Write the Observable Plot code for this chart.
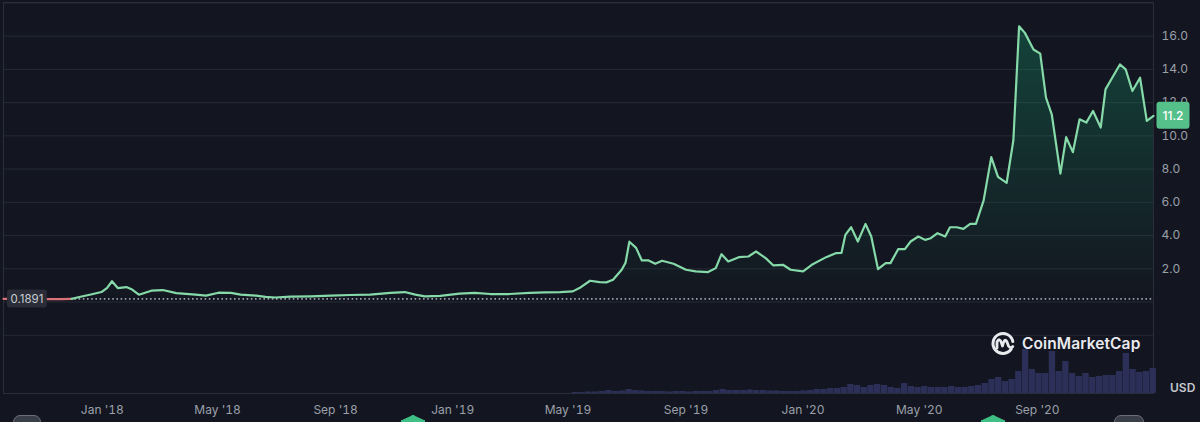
<!DOCTYPE html>
<html>
<head>
<meta charset="utf-8">
<script src="https://cdn.jsdelivr.net/npm/d3@7"></script>
<script src="https://cdn.jsdelivr.net/npm/@observablehq/plot@0.6"></script>
<style>
html, body { margin: 0; padding: 0; background: #131620; }
#wrap { position: relative; width: 1200px; height: 422px; overflow: hidden; background: #131620; font-family: Inter, "Noto Sans", sans-serif; }
#wrap > svg { position: absolute; left: 0; top: 0; }
#logo { position: absolute; left: 990px; top: 330px; display: flex; align-items: center; gap: 6px; color: #e9eaee; font-size: 15.5px; font-weight: 600; letter-spacing: 0.1px; }
#usd { position: absolute; left: 1170px; top: 380px; color: #c4c7ce; font-size: 12px; font-weight: 600; }
.mk { position: absolute; top: 415px; }
</style>
</head>
<body>
<div id="wrap"></div>
<script>
// ---- data (price in USD) ----
const startDate = "2017-09-20";
const endDate = "2020-12-31";
const priceDates = [
  "2017-09-20","2017-10-09","2017-10-30","2017-11-19","2017-11-30","2017-12-08","2017-12-20","2017-12-31",
  "2018-01-06","2018-01-11","2018-01-17","2018-01-26","2018-02-01","2018-02-08","2018-02-21","2018-03-05","2018-03-19","2018-04-08","2018-04-19","2018-05-02","2018-05-15","2018-05-25","2018-06-10","2018-06-20","2018-06-30","2018-07-16","2018-08-06","2018-08-27","2018-09-16","2018-10-07","2018-10-28","2018-11-12","2018-11-23","2018-12-03","2018-12-19",
  "2019-01-08","2019-01-24","2019-02-09","2019-03-01","2019-03-22","2019-04-07","2019-04-23","2019-05-06","2019-05-13","2019-05-24","2019-06-03","2019-06-10","2019-06-17","2019-06-26","2019-06-30","2019-07-04","2019-07-11","2019-07-17","2019-07-24","2019-07-31","2019-08-07","2019-08-19","2019-09-01","2019-09-11","2019-09-24","2019-10-02","2019-10-08","2019-10-15","2019-10-26","2019-11-05","2019-11-13","2019-11-23","2019-12-01","2019-12-11","2019-12-19",
  "2020-01-01","2020-01-10","2020-01-25","2020-02-04","2020-02-10","2020-02-14","2020-02-20","2020-02-27","2020-03-06","2020-03-12","2020-03-19","2020-03-27","2020-04-01","2020-04-09","2020-04-16","2020-04-22","2020-04-30","2020-05-07","2020-05-13","2020-05-20","2020-05-28","2020-06-02","2020-06-09","2020-06-16","2020-06-23","2020-06-29","2020-07-07","2020-07-15","2020-07-22","2020-07-31","2020-08-07","2020-08-13","2020-08-19","2020-08-28","2020-09-04","2020-09-10","2020-09-16","2020-09-25","2020-10-01","2020-10-08","2020-10-15","2020-10-22","2020-10-29","2020-11-06","2020-11-11","2020-11-18","2020-11-26","2020-12-02","2020-12-09","2020-12-17","2020-12-24","2020-12-31"
];
const prices = [
  0.19,0.18,0.17,0.17,0.19,0.30,0.45,0.6,
  0.85,1.25,0.84,0.9,0.75,0.44,0.68,0.72,0.53,0.44,0.38,0.56,0.55,0.44,0.38,0.31,0.27,0.32,0.34,0.38,0.42,0.44,0.55,0.6,0.44,0.34,0.37,
  0.5,0.55,0.48,0.48,0.55,0.58,0.6,0.64,0.84,1.28,1.2,1.18,1.34,1.94,2.36,3.63,3.26,2.5,2.5,2.3,2.48,2.3,1.94,1.84,1.8,2.04,2.88,2.44,2.7,2.74,3.04,2.64,2.2,2.24,1.94,
  1.84,2.24,2.7,2.94,2.96,4.04,4.5,3.64,4.7,3.94,1.98,2.34,2.34,3.18,3.18,3.64,3.94,3.74,3.84,4.14,3.94,4.5,4.5,4.4,4.7,4.7,6.1,8.72,7.53,7.17,9.72,16.6,16.2,15.2,14.95,12.3,11.3,7.73,9.92,9.02,11.0,10.8,11.5,10.5,12.8,13.5,14.3,14.0,12.7,13.5,10.9,11.2
];
const startPrice = 0.1891;
const lastPrice = 11.2;
const redUntil = "2017-11-30";
const yTicks = [2, 4, 6, 8, 10, 12, 14, 16];
const gridValues = [-2, 0, 2, 4, 6, 8, 10, 12, 14, 16, 18];
const xTicks = ["2018-01-01","2018-05-01","2018-09-01","2019-01-01","2019-05-01","2019-09-01","2020-01-01","2020-05-01","2020-09-01"];
// weekly volume (USD millions), from week of 2019-05-05
const volStart = "2019-05-05";
const volumes = [
  100,100,150,150,200,300,200,250,400,300,250,200,200,200,150,200,200,150,200,200,200,300,400,300,300,300,350,300,300,250,250,200,200,200,250,300,
  400,400,500,500,600,900,800,600,800,900,800,600,500,1000,700,600,700,600,600,600,700,600,600,700,800,1000,1400,1600,1200,1400,2200,4400,2400,2000,
  2000,4200,2200,3200,2000,1700,2000,1600,1700,1800,1800,2200,4000,2400,2100,2200,2500
];

// ---- build tables ----
const priceData = priceDates.map((d, i) => ({date: new Date(d), price: prices[i]}));
const redPart = priceData.filter(d => d.date <= new Date(redUntil));
const greenPart = priceData.filter(d => d.date >= new Date(redUntil));
const volData = volumes.map((v, i) => ({start: d3.utcDay.offset(new Date(volStart), 7 * i), vol: v}));

const xDomain = [new Date(startDate), new Date(endDate)];
const xRange = [3, 1153];
const gridColor = "#262a35";

const price = Plot.plot({
  width: 1200, height: 422,
  marginTop: 2, marginLeft: 3, marginRight: 47, marginBottom: 29,
  style: {background: "transparent", color: "#9ba0aa", fontFamily: "Inter, 'Noto Sans', sans-serif", fontSize: "12px"},
  x: {type: "utc", domain: xDomain, range: xRange, ticks: xTicks.map(d => new Date(d)),
      tickFormat: d3.utcFormat("%b '%y"), tickSize: 0, tickPadding: 12, label: null},
  y: {domain: [0, 16], range: [301.5, 35.7], ticks: yTicks, tickFormat: d => d.toFixed(1),
      axis: "right", tickSize: 0, tickPadding: 8, label: null},
  marks: [
    Plot.ruleY(gridValues, {stroke: gridColor, strokeWidth: 1}),
    Plot.frame({stroke: "#2a2e3a"}),
    Plot.areaY(greenPart, {x: "date", y1: startPrice, y2: "price", fill: "url(#areaGrad)"}),
    Plot.ruleY([startPrice], {stroke: "#9a9fa8", strokeWidth: 1.6, strokeDasharray: "1.6,2.6"}),
    Plot.line(redPart, {x: "date", y: "price", stroke: "#dc7279", strokeWidth: 2.2}),
    Plot.line(greenPart, {x: "date", y: "price", stroke: "#86d9a9", strokeWidth: 2.2, strokeLinejoin: "round"}),
    Plot.text([startPrice], {y: d => d, frameAnchor: "left", dx: 7, textAnchor: "start", text: d => d.toFixed(4),
      fill: "#c9ccd3", fontSize: 11.5}),
    Plot.text([lastPrice], {y: d => d, frameAnchor: "right", dx: 9, textAnchor: "start", text: d => d.toFixed(1),
      fill: "#ffffff", fontSize: 12, fontWeight: 500})
  ]
});

const volume = Plot.plot({
  width: 1200, height: 422,
  marginTop: 2, marginLeft: 3, marginRight: 47, marginBottom: 29,
  style: {background: "transparent"},
  x: {type: "utc", domain: xDomain, range: xRange, axis: null},
  y: {domain: [0, 5000], range: [393, 343], axis: null},
  marks: [
    Plot.rectY(volData, {x1: "start", x2: d => d3.utcDay.offset(d.start, 7), y: "vol", fill: "#2c3058", insetLeft: 0.4})
  ]
});

const wrap = document.getElementById("wrap");
wrap.appendChild(price);
wrap.appendChild(volume);

// gradient for the area
const defs = d3.select(price).insert("defs", ":first-child");
const grad = defs.append("linearGradient").attr("id", "areaGrad")
  .attr("gradientUnits", "userSpaceOnUse").attr("x1", 0).attr("x2", 0).attr("y1", 20).attr("y2", 300);
grad.append("stop").attr("offset", "0%").attr("stop-color", "#16c784").attr("stop-opacity", 0.26);
grad.append("stop").attr("offset", "100%").attr("stop-color", "#16c784").attr("stop-opacity", 0.0);

// badges behind the two value labels
function badge(label, fill, padX, padY, r) {
  const svgSel = d3.select(price);
  svgSel.selectAll("text").filter(function () { return this.textContent === label; }).each(function () {
    const t = this;
    const parent = d3.select(t.parentNode);
    const b = t.getBBox();
    parent.insert("rect", () => t)
      .attr("x", b.x - padX).attr("y", b.y - padY)
      .attr("width", b.width + 2 * padX).attr("height", b.height + 2 * padY)
      .attr("rx", r).attr("fill", fill)
      .attr("transform", t.getAttribute("transform"));
    parent.raise();
  });
}
badge(startPrice.toFixed(4), "#2a2d37", 3.5, 2, 3);
badge(lastPrice.toFixed(1), "#56c08b", 6, 6, 3);

// CoinMarketCap watermark
const logo = document.createElement("div");
logo.id = "logo";
logo.innerHTML = `<svg width="26" height="26" viewBox="-13 -13 26 26">
  <path d="M 8.2 6.2 A 10 10 0 1 1 9.8 -1.5" fill="none" stroke="#e9eaee" stroke-width="3" stroke-linecap="round"/>
  <path d="M -6 5 L -6 -1 Q -3.5 -6 -1.5 0 L -0.5 3 Q 1.5 -6 4 -1 L 5.5 3 Q 7.5 6 9.8 3.5" fill="none" stroke="#e9eaee" stroke-width="2.8" stroke-linecap="round" stroke-linejoin="round"/>
</svg><span>CoinMarketCap</span>`;
wrap.appendChild(logo);

const usd = document.createElement("div");
usd.id = "usd";
usd.textContent = "USD";
wrap.appendChild(usd);

// partially visible event markers at the bottom edge
const markers = [
  {left: 13, w: 26, color: "#3a3e48", border: "#6b6f79", round: true},
  {left: 401, w: 22, color: "#3fbf86", border: "#3fbf86", round: false},
  {left: 981, w: 22, color: "#3fbf86", border: "#3fbf86", round: false},
  {left: 1114, w: 28, color: "#3a3e48", border: "#6b6f79", round: true}
];
markers.forEach(m => {
  const el = document.createElement("div");
  el.className = "mk";
  el.style.left = m.left + "px";
  el.style.width = m.w + "px";
  el.style.height = "14px";
  el.style.background = m.color;
  el.style.border = "1px solid " + m.border;
  el.style.borderRadius = m.round ? "7px" : "0";
  if (!m.round) el.style.clipPath = "polygon(50% 0, 100% 35%, 100% 100%, 0 100%, 0 35%)";
  wrap.appendChild(el);
});
</script>
</body>
</html>
